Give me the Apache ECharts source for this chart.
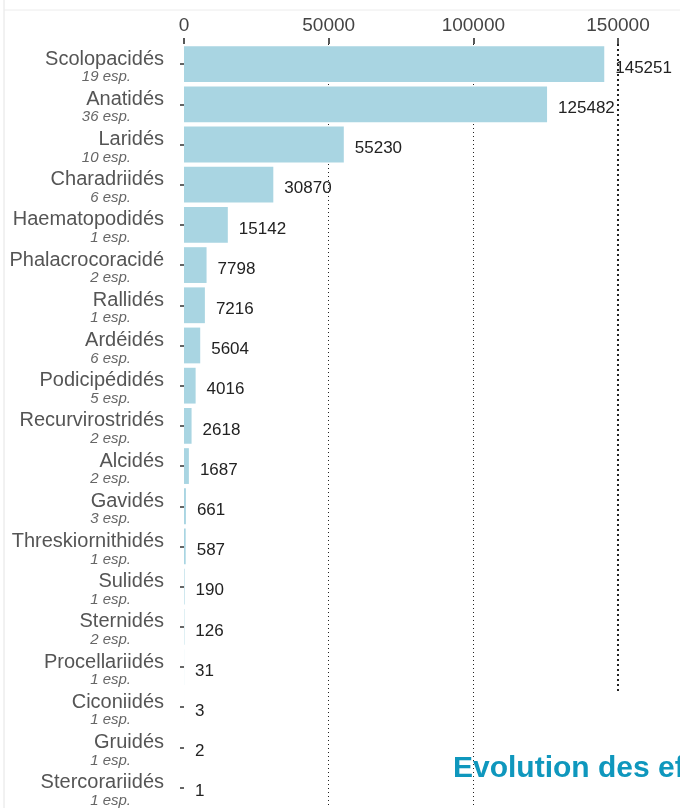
<!DOCTYPE html>
<html>
<head>
<meta charset="utf-8">
<script src="https://cdn.jsdelivr.net/npm/echarts@6/dist/echarts.min.js"></script>
<style>
html,body{margin:0;padding:0;background:#fff;}
#chart{width:680px;height:808px;}
</style>
</head>
<body>
<div id="chart"></div>
<script>
const categories = ['Scolopacidés','Anatidés','Laridés','Charadriidés','Haematopodidés','Phalacrocoracidé','Rallidés','Ardéidés','Podicipédidés','Recurvirostridés','Alcidés','Gavidés','Threskiornithidés','Sulidés','Sternidés','Procellariidés','Ciconiidés','Gruidés','Stercorariidés'];
const speciesCounts = [19,36,10,6,1,2,1,6,5,2,2,3,1,1,2,1,1,1,1];
const values = [145251,125482,55230,30870,15142,7798,7216,5604,4016,2618,1687,661,587,190,126,31,3,2,1];
const xMin = 0, xMax = 150000, xInterval = 50000;
const titleText = 'Evolution des effectifs';

const FONT = '"Liberation Sans", Arial, sans-serif';
const chart = echarts.init(document.getElementById('chart'), null, {renderer: 'canvas'});
chart.setOption({
  animation: false,
  backgroundColor: '#ffffff',
  grid: {left: 184, top: 44, height: 769, right: 62, containLabel: false},
  xAxis: {
    type: 'value', position: 'top', min: xMin, max: xMax, interval: xInterval,
    axisLine: {show: false},
    axisTick: {show: true, length: 6, lineStyle: {color: '#222', width: 1.5}},
    axisLabel: {fontFamily: FONT, fontSize: 19, color: '#444', margin: 9, formatter: v => String(v)},
    splitLine: {show: true, showMinLine: false, showMaxLine: false,
      lineStyle: {color: '#222', width: 1, type: [1, 3]}}
  },
  yAxis: {
    type: 'category', data: categories, inverse: true,
    axisLine: {show: false},
    axisTick: {show: true, alignWithLabel: true, length: 4, lineStyle: {color: '#333', width: 1.5}},
    axisLabel: {
      margin: 20, padding: [7, 0, 0, 0], align: 'right',
      formatter: (v, i) => '{n|' + v + '}\n{e|' + speciesCounts[i] + ' esp.}',
      rich: {
        n: {fontFamily: FONT, fontSize: 20, color: '#555', lineHeight: 19, align: 'right'},
        e: {fontFamily: FONT, fontSize: 15, fontStyle: 'italic', color: '#666', lineHeight: 17, align: 'right', padding: [0, 33, 0, 0]}
      }
    }
  },
  series: [{
    type: 'bar', data: values, barCategoryGap: '11%',
    itemStyle: {color: '#a9d5e2'},
    label: {show: true, position: 'right', distance: 11, offset: [0, 4],
      fontFamily: FONT, fontSize: 17, color: '#222'},
    markLine: {
      silent: true, symbol: 'none', label: {show: false},
      lineStyle: {color: '#222', width: 2, type: [2, 3]},
      data: [[{coord: [xMax, categories[0]], y: 44}, {coord: [xMax, categories[15]], y: 692}]]
    }
  }],
  graphic: [
    {type: 'line', shape: {x1: 4, y1: 0, x2: 4, y2: 808}, style: {stroke: '#e4e4e4', lineWidth: 1}},
    {type: 'line', shape: {x1: 4, y1: 10, x2: 680, y2: 10}, style: {stroke: '#ececec', lineWidth: 1}},
    {type: 'text', left: 453, top: 754, style: {text: titleText, font: 'bold 30px ' + FONT, fill: '#0f97bd'}}
  ]
});
</script>
</body>
</html>
